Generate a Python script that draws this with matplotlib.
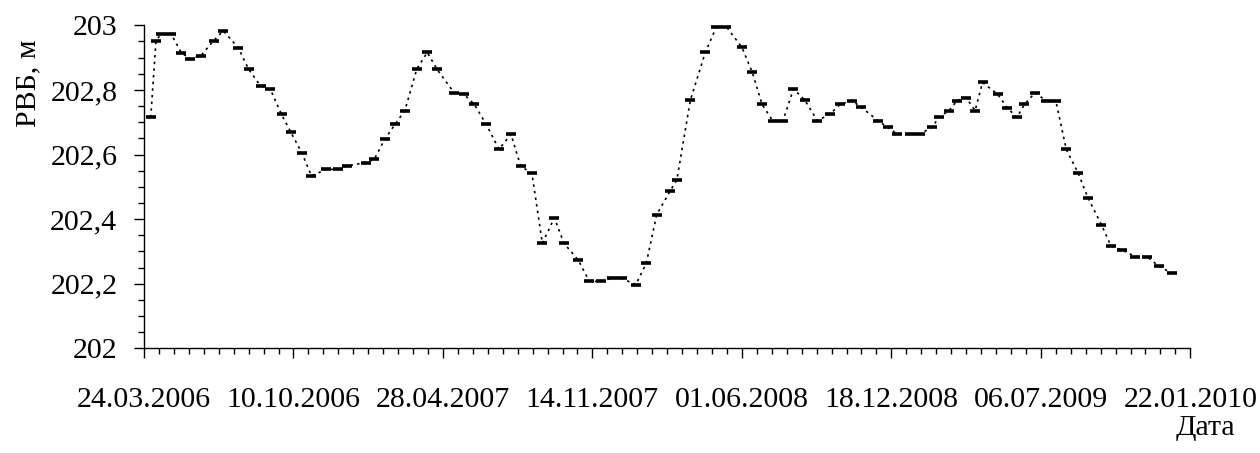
import pandas as pd
import numpy as np
import matplotlib
matplotlib.use('Agg')
import matplotlib.pyplot as plt
import matplotlib.dates as mdates
from matplotlib.ticker import FixedLocator, MultipleLocator, FuncFormatter

plt.rcParams['font.family'] = ['Liberation Serif', 'DejaVu Serif']

dates = [
    '2006-04-02', '2006-04-09', '2006-04-16', '2006-04-29', '2006-05-13', '2006-05-25',
    '2006-06-08', '2006-06-25', '2006-07-08', '2006-07-28', '2006-08-11', '2006-08-27',
    '2006-09-09', '2006-09-24', '2006-10-06', '2006-10-21', '2006-11-03', '2006-11-23',
    '2006-12-08', '2006-12-21', '2007-01-15', '2007-01-26', '2007-02-09', '2007-02-23',
    '2007-03-08', '2007-03-24', '2007-04-07', '2007-04-20', '2007-05-13', '2007-05-26',
    '2007-06-09', '2007-06-25', '2007-07-12', '2007-07-28', '2007-08-10', '2007-08-25',
    '2007-09-08', '2007-09-24', '2007-10-07', '2007-10-26', '2007-11-10', '2007-11-25',
    '2007-12-10', '2007-12-23', '2008-01-11', '2008-01-25', '2008-02-08', '2008-02-26',
    '2008-03-06', '2008-03-24', '2008-04-13', '2008-04-28', '2008-05-11', '2008-06-01',
    '2008-06-15', '2008-06-28', '2008-07-12', '2008-07-26', '2008-08-09', '2008-08-24',
    '2008-09-10', '2008-09-27', '2008-10-10', '2008-10-26', '2008-11-08', '2008-11-30',
    '2008-12-13', '2008-12-26', '2009-01-12', '2009-01-25', '2009-02-10', '2009-02-20',
    '2009-03-05', '2009-03-16', '2009-03-28', '2009-04-09', '2009-04-19', '2009-05-09',
    '2009-05-22', '2009-06-04', '2009-06-14', '2009-06-28', '2009-07-13', '2009-07-26',
    '2009-08-09', '2009-08-25', '2009-09-07', '2009-09-25', '2009-10-08', '2009-10-23',
    '2009-11-09', '2009-11-25', '2009-12-11', '2009-12-28',
]

levels = [
    202.715, 202.952, 202.974, 202.974, 202.915, 202.896,
    202.906, 202.952, 202.983, 202.931, 202.864, 202.812,
    202.802, 202.724, 202.671, 202.606, 202.534, 202.554,
    202.554, 202.565, 202.575, 202.585, 202.647, 202.694,
    202.736, 202.865, 202.916, 202.864, 202.791, 202.787,
    202.755, 202.693, 202.616, 202.663, 202.564, 202.542,
    202.325, 202.404, 202.325, 202.273, 202.207, 202.207,
    202.217, 202.217, 202.197, 202.263, 202.414, 202.487,
    202.522, 202.768, 202.916, 202.996, 202.996, 202.932,
    202.854, 202.755, 202.705, 202.705, 202.803, 202.769,
    202.705, 202.725, 202.755, 202.767, 202.746, 202.705,
    202.684, 202.663, 202.663, 202.663, 202.684, 202.715,
    202.736, 202.767, 202.776, 202.736, 202.823, 202.787,
    202.745, 202.715, 202.755, 202.791, 202.767, 202.767,
    202.616, 202.542, 202.466, 202.383, 202.316, 202.304,
    202.284, 202.284, 202.254, 202.233,
]

x_start = '2006-03-24'
x_days = 1400

df = pd.DataFrame({'date': pd.to_datetime(dates), 'level': levels})

fig = plt.figure(figsize=(12.6, 4.53), dpi=100)
ax = fig.add_axes([0.1143, 0.2311, 0.8304, 0.713])

ax.plot(df['date'], df['level'], color='black', lw=1.2, ls=(0, (1.5, 2.5)),
        marker='_', markersize=7, markeredgewidth=2.6)

start = mdates.date2num(pd.Timestamp(x_start))
ax.set_xlim(start, start + x_days)
ax.set_ylim(202, 203)

ax.xaxis.set_major_locator(FixedLocator(start + np.arange(0, x_days + 1, 200)))
ax.xaxis.set_minor_locator(FixedLocator(start + np.arange(0, x_days + 1, 20)))
ax.xaxis.set_major_formatter(mdates.DateFormatter('%d.%m.%Y'))
ax.yaxis.set_major_locator(MultipleLocator(0.2))
ax.yaxis.set_minor_locator(MultipleLocator(0.05))
ax.yaxis.set_major_formatter(FuncFormatter(lambda v, p: f'{v:g}'.replace('.', ',')))

for s in ['top', 'right']:
    ax.spines[s].set_visible(False)
for s in ['left', 'bottom']:
    ax.spines[s].set_linewidth(1.0)

ax.tick_params(axis='x', which='major', length=7, width=1.0, pad=20.5, labelsize=21.5)
ax.tick_params(axis='x', which='minor', length=4.5, width=1.0)
ax.tick_params(axis='y', which='major', length=7.2, width=1.0, pad=12, labelsize=21.5)
ax.tick_params(axis='y', which='minor', length=4, width=1.0)

ax.set_ylabel('РВБ, м', fontsize=21.5)
ax.yaxis.set_label_coords(-0.098, 0.82)
ax.set_xlabel('Дата', fontsize=21.5, va='top')
ax.xaxis.set_label_coords(1.014, -0.205)

fig.savefig('out.png', dpi=100)
